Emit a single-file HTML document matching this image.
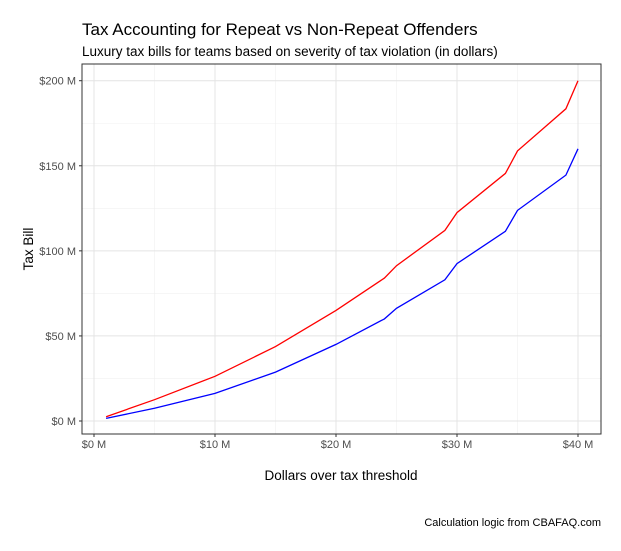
<!DOCTYPE html>
<html><head><meta charset="utf-8"><style>
body{margin:0;background:#fff;font-family:"Liberation Sans",Arial,sans-serif}
</style></head><body>
<svg width="621" height="546" xmlns="http://www.w3.org/2000/svg" font-family="Liberation Sans, Arial, sans-serif">
<text x="82" y="35" font-size="17" fill="#000">Tax Accounting for Repeat vs Non-Repeat Offenders</text>
<text x="82" y="56" font-size="13.5" fill="#000">Luxury tax bills for teams based on severity of tax violation (in dollars)</text>
<g id="grid"></g>
<g id="lines"></g>
<rect x="82" y="64" width="519" height="370" fill="none" stroke="#333" stroke-width="1"/>
<g id="axes"></g>
<text x="33" y="249" font-size="13.5" text-anchor="middle" transform="rotate(-90 33 249)">Tax Bill</text>
<text x="341" y="480" font-size="13.5" text-anchor="middle">Dollars over tax threshold</text>
<text x="601" y="526" font-size="11" text-anchor="end">Calculation logic from CBAFAQ.com</text>
</svg>
<script>
const xVals=[1,5,10,15,20,24,25,29,30,34,35,39,40];
const nonRepeat=[1.5,7.5,16.25,28.75,45,60,66.25,83,92.5,111.5,123.75,144.5,160];
const repeat=[2.5,12.5,26.25,43.75,65,84,91.25,112,122.5,145.5,158.75,183.5,200];
const xTicks=[0,10,20,30,40];
const yTicks=[0,50,100,150,200];
const xLabels=["$0 M","$10 M","$20 M","$30 M","$40 M"];
const yLabels=["$0 M","$50 M","$100 M","$150 M","$200 M"];
const NS="http://www.w3.org/2000/svg";
const sx=v=>94+v*(578-94)/40;
const sy=v=>421-v*(421-80.7)/200;
function mk(t,a,p){const e=document.createElementNS(NS,t);for(const k in a)e.setAttribute(k,a[k]);p.appendChild(e);return e;}
const g=document.getElementById('grid'),ax=document.getElementById('axes'),L=document.getElementById('lines');
mk('rect',{x:82,y:64,width:519,height:370,fill:'#fff'},g);
for(let v=5;v<=35;v+=10){const l=mk('line',{x1:sx(v),x2:sx(v),y1:64,y2:434,stroke:'#f0f0f0','stroke-width':0.6},g);

}
for(let v=25;v<=175;v+=50){const l=mk('line',{x1:82,x2:601,y1:sy(v),y2:sy(v),stroke:'#f0f0f0','stroke-width':0.6},g);

}
xTicks.forEach((v,i)=>{const l=mk('line',{x1:sx(v),x2:sx(v),y1:64,y2:434,stroke:'#e4e4e4','stroke-width':1},g);


mk('line',{x1:sx(v),x2:sx(v),y1:434,y2:437,stroke:'#333'},ax);
const t=mk('text',{x:sx(v),y:448,'font-size':11,'text-anchor':'middle',fill:'#4d4d4d'},ax);t.textContent=xLabels[i];

});
yTicks.forEach((v,i)=>{const l=mk('line',{x1:82,x2:601,y1:sy(v),y2:sy(v),stroke:'#e4e4e4','stroke-width':1},g);


mk('line',{x1:79,x2:82,y1:sy(v),y2:sy(v),stroke:'#333'},ax);
const t=mk('text',{x:76,y:sy(v)+4,'font-size':11,'text-anchor':'end',fill:'#4d4d4d'},ax);t.textContent=yLabels[i];

});
function line(vals,color,name){const d=vals.map((v,i)=>(i?'L':'M')+sx(xVals[i]).toFixed(1)+' '+sy(v).toFixed(1)).join(' ');
const p=mk('path',{d:d,fill:'none',stroke:color,'stroke-width':1.3},L);

}
line(repeat,'#ff0000','repeat-offender-line');
line(nonRepeat,'#0000ff','non-repeat-offender-line');
</script>
</body></html>
